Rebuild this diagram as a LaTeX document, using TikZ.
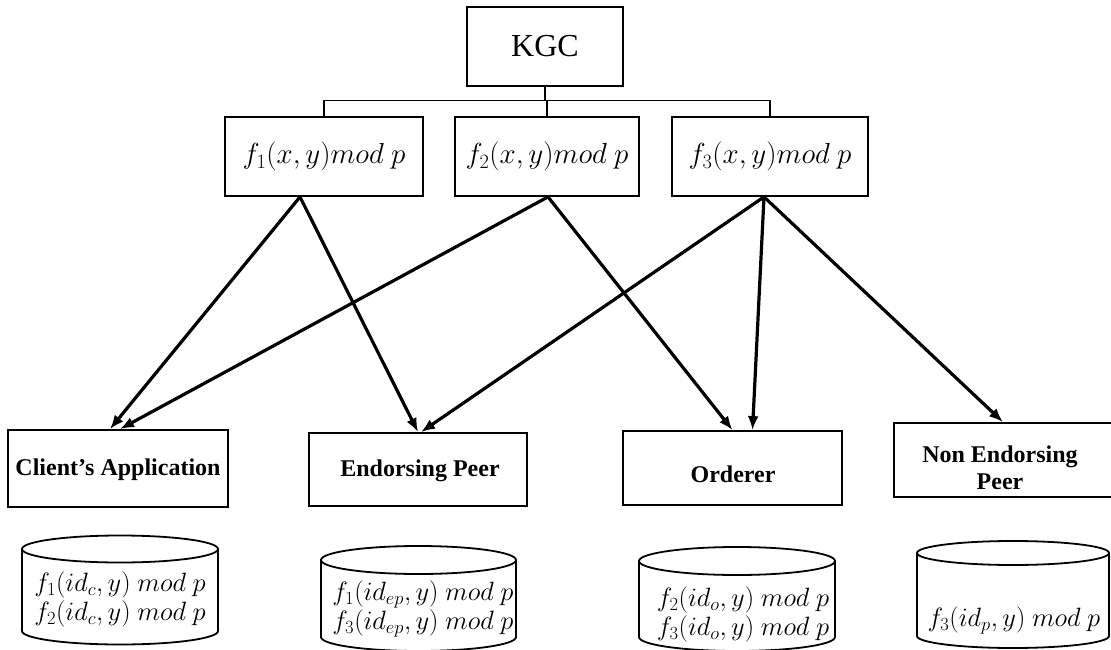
\RequirePackage{fix-cm}
\documentclass[tikz,border=0pt]{standalone}
\usepackage{fontspec}
\setmainfont{Liberation Serif}[BoldFont={Liberation Serif Bold}]
\usetikzlibrary{arrows.meta,calc}

% storage drum: left x, right x, top centre y, bottom centre y, half height of the rims
\newcommand\drum[5]{%
  \pgfmathsetmacro\drumrx{(#2-#1)/2}%
  \draw[edge] ({(#1+#2)/2},#3) ellipse[x radius=\drumrx pt, y radius=#5pt];
  \draw[edge] (#1,#3) -- (#1,#4)
    arc[start angle=180, end angle=360, x radius=\drumrx pt, y radius=#5pt]
    -- (#2,#3);
}

\begin{document}
\begin{tikzpicture}[x=1pt,y=-1pt,
  edge/.style={line width=1.8pt},
  frame/.style={draw, line width=1.8pt, inner sep=0pt},
  fn/.style={frame, minimum height=79pt, font=\fontsize{29}{32}\selectfont},
  role/.style={frame, minimum height=74pt},
  rolelabel/.style={inner sep=0pt, align=center, font=\fontsize{24}{26.5}\selectfont\bfseries},
  share/.style={inner sep=0pt, align=center, font=\fontsize{26.5}{29}\selectfont},
  conn/.style={line width=3.2pt, -{Latex[length=14pt,width=11pt]}}]

\useasboundingbox (0,0) rectangle (1111,650);

% key generation centre and its three polynomials
\node[frame, minimum width=156pt, minimum height=79pt,
      font=\fontsize{32}{36}\selectfont] (kgc) at (545,46.5) {KGC};
\node[fn, minimum width=198pt] (f1) at (324,156.5) {$f_1(x,y)mod\ p$};
\node[fn, minimum width=184pt] (f2) at (547,156.5) {$f_2(x,y)mod\ p$};
\node[fn, minimum width=196pt] (f3) at (770,156.5) {$f_3(x,y)mod\ p$};

\coordinate (bus) at (545,100.5);
\draw[edge] (kgc.south) -- (bus);
\draw[edge] (f1.north) -- (f1.north |- bus) -- (f3.north |- bus) -- (f3.north);
\draw[edge] (f2.north) -- (f2.north |- bus);

% network roles
\node[role, minimum width=220pt, minimum height=77pt] (client) at (118,468.5) {};
\node[role, minimum width=218pt, minimum height=73pt] (endorser) at (418,469.5) {};
\node[role, minimum width=219pt] (orderer) at (732.5,468) {};
\node[role, minimum width=221pt] (nonendorser) at (1004.5,460) {};

\node[rolelabel] (clientT) at (118,470) {Client’s Application};
\node[rolelabel] (endorserT) at (420,471) {Endorsing Peer};
\node[rolelabel] (ordererT) at (733,474) {Orderer};
\node[rolelabel] (nonendorserT) at (1000,468) {Non Endorsing\\Peer};

% shares handed out
\draw[conn] ([xshift=-24pt]f1.south) -- ([xshift=-8pt]client.north);
\draw[conn] ([xshift=-24pt]f1.south) -- (endorser.north);
\draw[conn] ([xshift=1pt]f2.south) -- ([xshift=2pt]client.north);
\draw[conn] ([xshift=1pt]f2.south) -- (orderer.north);
\draw[conn] ([xshift=-6pt]f3.south) -- ([xshift=3pt]endorser.north);
\draw[conn] ([xshift=-6pt]f3.south) -- ([xshift=20pt]orderer.north);
\draw[conn] ([xshift=-6pt]f3.south) -- ([xshift=-1.5pt]nonendorser.north);

% stored shares
\drum{22}{218}{549}{631}{13.5}
\drum{321}{516}{560}{637}{14}
\drum{639}{835}{561}{637}{14}
\drum{917}{1109}{553}{636}{12}

\node[share] (clientS) at (120,599)
  {$f_1(id_c,y)\ mod\ p$\\$f_2(id_c,y)\ mod\ p$};
\node[share] (endorserS) at (423,609)
  {$f_1(id_{ep},y)\ mod\ p$\\$f_3(id_{ep},y)\ mod\ p$};
\node[share] (ordererS) at (743,614)
  {$f_2(id_o,y)\ mod\ p$\\$f_3(id_o,y)\ mod\ p$};
\node[share] (nonendorserS) at (1014,620)
  {$f_3(id_p,y)\ mod\ p$};
\end{tikzpicture}
\end{document}
